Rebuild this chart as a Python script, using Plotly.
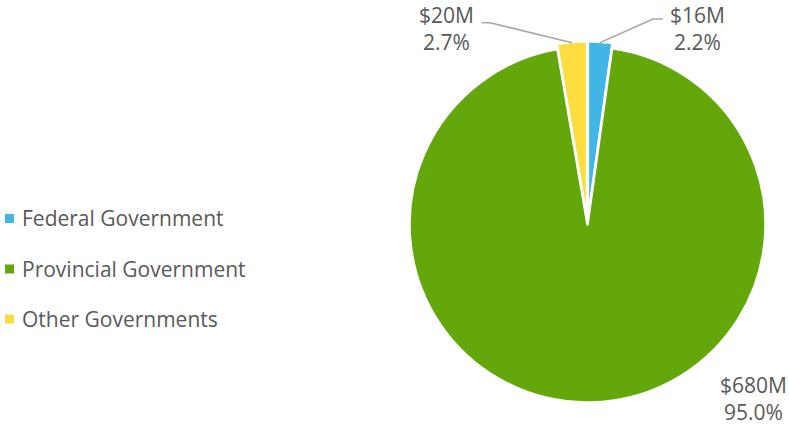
import math
import plotly.graph_objects as go

categories = ["Federal Government", "Provincial Government", "Other Governments"]
percent_values = [2.2, 95.0, 2.7]
dollar_labels = ["$16M", "$680M", "$20M"]
colors = ["#41b6e6", "#64a70b", "#fbdd40"]

W, H = 789, 428
cx, cy = 587.5, 224.5          # pie centre in px (from top-left)
R = 177.5                       # pie radius in px
PULL = 0.03
half = R * (1 + PULL) + 0.5

def px(x):
    return x / W

def py(y):
    return 1 - y / H

fig = go.Figure()
fig.add_trace(go.Pie(
    labels=categories,
    values=percent_values,
    sort=False,
    direction="clockwise",
    rotation=0,
    marker=dict(colors=colors, line=dict(color="white", width=2.5)),
    pull=[PULL, 0, PULL],
    textinfo="none",
    hoverinfo="label+percent",
    showlegend=False,
    domain=dict(x=[px(cx - half), px(cx + half)], y=[py(cy + half), py(cy - half)]),
))

TEXT = "#595959"
FONT = "Open Sans"

# data labels with leader lines, anchored at slice mid-angles
total = sum(percent_values)
cum = 0.0
label_layout = {
    0: dict(elbow=(653, 19), end=(663, 19), text=(697, 28.5)),
    1: dict(elbow=None, end=None, text=(753, 398.5)),
    2: dict(elbow=(490, 22.7), end=(482, 22.7), text=(447, 28.5)),
}
annotations = []
shapes = []
for i, v in enumerate(percent_values):
    mid = (cum + v / 2) / total * 2 * math.pi
    cum += v
    lay = label_layout[i]
    if lay["elbow"] is not None:
        rr = R * (1 + PULL) - 0.5
        ax = cx + rr * math.sin(mid)
        ay = cy - rr * math.cos(mid)
        ex, ey = lay["elbow"]
        fx, fy = lay["end"]
        shapes.append(dict(type="line", xref="paper", yref="paper",
                           x0=px(ax), y0=py(ay), x1=px(ex), y1=py(ey),
                           line=dict(color="#a6a6a6", width=1.5)))
        shapes.append(dict(type="line", xref="paper", yref="paper",
                           x0=px(ex), y0=py(ey), x1=px(fx), y1=py(fy),
                           line=dict(color="#a6a6a6", width=1.5)))
    tx, ty = lay["text"]
    annotations.append(dict(
        x=px(tx), y=py(ty), xref="paper", yref="paper",
        text=f"{dollar_labels[i]}<br>{percent_values[i]:.1f}%",
        showarrow=False, xanchor="center", yanchor="middle",
        font=dict(family=FONT, size=21, color=TEXT), align="center",
        borderpad=0,
    ))

# legend drawn as squares + text
legend_y = [218.5, 269, 319]
for i, name in enumerate(categories):
    y = legend_y[i]
    shapes.append(dict(type="rect", xref="paper", yref="paper",
                       x0=px(5), x1=px(14), y0=py(y + 4.5), y1=py(y - 4.5),
                       fillcolor=colors[i], line=dict(width=0)))
    annotations.append(dict(
        x=px(20), y=py(y), xref="paper", yref="paper", text=name,
        showarrow=False, xanchor="left", yanchor="middle",
        font=dict(family=FONT, size=21, color=TEXT),
    ))

fig.update_layout(
    width=W, height=H,
    margin=dict(l=0, r=0, t=0, b=0),
    paper_bgcolor="white", plot_bgcolor="white",
    showlegend=False,
    shapes=shapes,
    annotations=annotations,
)

fig.write_html("out.html")
